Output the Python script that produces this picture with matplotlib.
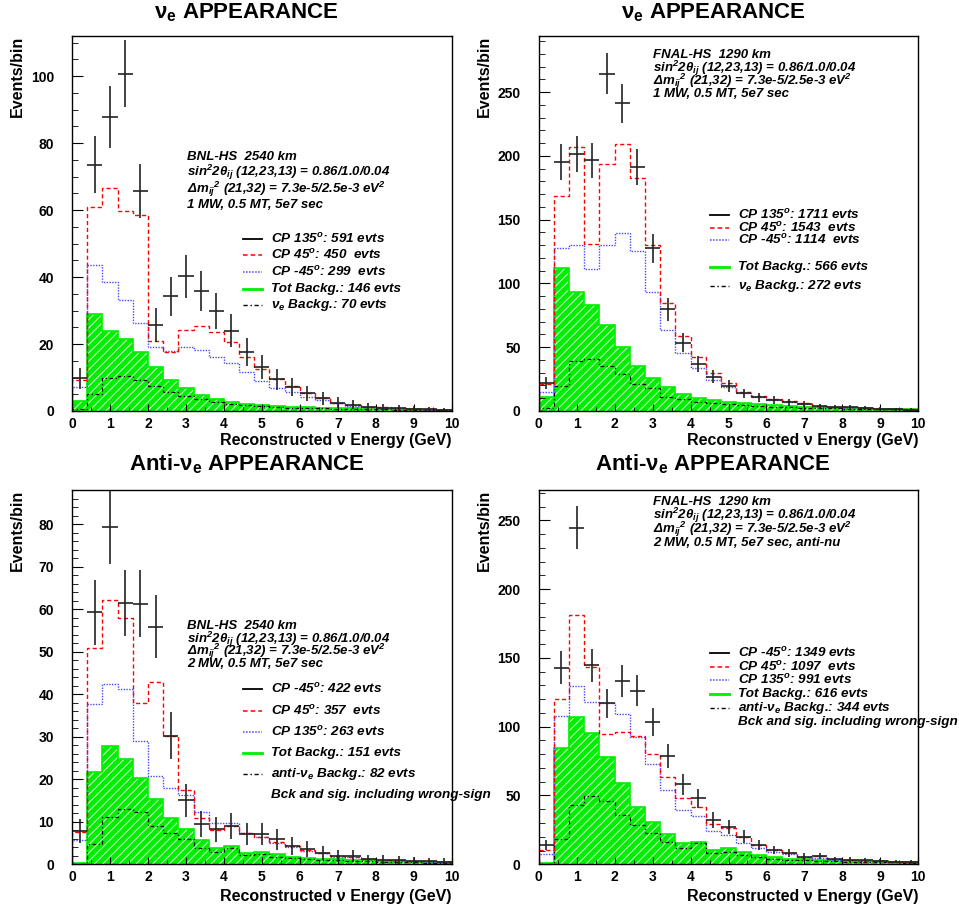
import numpy as np
import matplotlib
matplotlib.use("Agg")
import matplotlib.pyplot as plt
from matplotlib.lines import Line2D

plt.rcParams["font.family"] = ["Liberation Sans", "DejaVu Sans"]
plt.rcParams["mathtext.fontset"] = "custom"
plt.rcParams["mathtext.rm"] = "Liberation Sans:bold:italic"
plt.rcParams["mathtext.it"] = "Liberation Sans:bold:italic"
plt.rcParams["mathtext.bf"] = "Liberation Sans:bold"
plt.rcParams["hatch.linewidth"] = 0.8

# 25 bins of 0.4 GeV between 0 and 10 GeV
edges = np.linspace(0, 10, 26)
centers = 0.5 * (edges[:-1] + edges[1:])

# ---- top left: BNL-HS 2540 km, neutrino ----
tl_cp135 = [9.8, 73.6, 87.8, 100.8, 65.8, 25.7, 34.2, 40.2, 35.9, 29.9, 24.0, 17.7, 13.2,
            9.5, 7.3, 5.3, 3.8, 2.5, 1.8, 1.2, 1.0, 0.8, 0.6, 0.5, 0.4]
tl_cp45 = [9.3, 60.9, 66.7, 59.8, 58.6, 20.9, 17.6, 24.2, 25.5, 23.7, 20.6, 16.1, 12.6,
           9.6, 7.5, 5.3, 4.0, 2.5, 1.7, 1.3, 1.1, 0.8, 0.6, 0.5, 0.4]
tl_cpm45 = [7.3, 43.6, 38.4, 33.2, 26.4, 19.2, 18.0, 19.2, 18.2, 16.2, 14.2, 11.5, 9.1,
            7.0, 5.8, 4.3, 3.3, 2.3, 1.5, 1.1, 0.9, 0.7, 0.5, 0.4, 0.3]
tl_tot = [3.0, 28.9, 24.0, 21.5, 17.5, 13.0, 9.2, 6.8, 4.7, 3.6, 2.6, 2.2, 1.9,
          1.5, 1.3, 1.1, 1.0, 0.9, 0.8, 0.7, 0.6, 0.5, 0.5, 0.4, 0.4]
tl_nue = [0.5, 5.0, 10.0, 10.6, 9.3, 7.5, 5.8, 4.5, 3.5, 2.6, 2.1, 1.8, 1.5,
          1.2, 1.0, 0.9, 0.8, 0.7, 0.6, 0.5, 0.5, 0.4, 0.4, 0.3, 0.3]

# ---- top right: FNAL-HS 1290 km, neutrino ----
tr_cp135 = [22.2, 195.1, 201.6, 196.4, 264.6, 241.1, 191.2, 127.6, 79.8, 53.6, 36.9, 26.9, 19.6,
            13.9, 10.7, 8.6, 6.8, 5.5, 3.9, 3.2, 2.8, 2.2, 1.7, 1.4, 1.1]
tr_cp45 = [20.9, 168.7, 206.6, 131.3, 193.5, 209.7, 183.0, 130.2, 85.0, 58.8, 42.6, 30.1, 22.2,
           15.2, 11.8, 9.4, 7.8, 6.0, 3.9, 3.1, 2.9, 2.4, 1.8, 1.5, 1.2]
tr_cpm45 = [15.2, 128.1, 130.2, 111.7, 130.2, 139.9, 125.5, 93.6, 63.5, 45.8, 34.0, 24.3, 19.1,
            13.9, 10.7, 8.6, 6.8, 5.2, 3.4, 2.8, 2.5, 2.0, 1.5, 1.2, 1.0]
tr_tot = [11.2, 111.9, 93.1, 83.4, 67.5, 50.5, 35.3, 26.2, 18.6, 13.6, 9.9, 8.4, 7.3,
          6.0, 5.2, 4.4, 3.9, 3.5, 3.0, 2.7, 2.4, 2.1, 1.8, 1.6, 1.4]
tr_nue = [2.1, 19.6, 39.2, 40.5, 35.3, 28.8, 21.2, 17.8, 11.2, 9.7, 7.3, 6.0, 5.2,
          4.4, 3.9, 3.4, 3.0, 2.6, 2.3, 2.0, 1.8, 1.6, 1.4, 1.2, 1.0]

# ---- bottom left: BNL-HS 2540 km, anti-neutrino ----
bl_cpm45 = [7.8, 59.2, 79.4, 61.4, 61.3, 55.9, 30.2, 15.1, 9.5, 8.2, 9.0, 7.1, 7.1,
            5.9, 4.3, 3.5, 2.7, 2.0, 2.0, 1.2, 1.1, 0.9, 0.8, 0.7, 0.6]
bl_cp45 = [7.5, 50.8, 62.2, 57.9, 38.0, 42.8, 30.2, 17.5, 10.8, 8.1, 8.9, 7.3, 6.5,
           5.3, 4.2, 3.4, 2.7, 2.0, 1.8, 1.3, 1.1, 0.9, 0.8, 0.7, 0.6]
bl_cp135 = [5.6, 37.6, 42.4, 41.2, 28.9, 20.8, 17.9, 16.3, 12.2, 9.6, 9.8, 7.3, 6.5,
            5.1, 4.0, 3.2, 2.6, 1.8, 1.6, 1.2, 1.0, 0.8, 0.7, 0.6, 0.5]
bl_tot = [0.2, 21.8, 27.8, 24.8, 20.2, 15.3, 10.9, 8.2, 5.7, 3.8, 4.3, 2.6, 3.0,
          2.4, 1.8, 1.4, 1.2, 1.2, 1.0, 0.9, 0.8, 0.7, 0.6, 0.5, 0.5]
bl_nue = [0.1, 4.7, 11.2, 12.9, 12.2, 9.0, 7.3, 5.9, 3.9, 3.0, 3.8, 2.2, 2.4,
          1.8, 1.4, 1.2, 1.0, 0.9, 0.8, 0.7, 0.6, 0.5, 0.5, 0.4, 0.4]

# ---- bottom right: FNAL-HS 1290 km, anti-neutrino ----
br_cpm45 = [14.0, 142.8, 244.7, 144.7, 116.9, 133.1, 126.1, 103.6, 78.7, 58.3, 47.9, 32.2, 27.3,
            20.1, 14.0, 10.4, 8.0, 5.6, 6.1, 3.6, 3.2, 2.8, 2.4, 2.0, 1.8]
br_cp45 = [10.4, 119.8, 181.0, 143.5, 94.4, 96.3, 93.2, 80.1, 63.2, 48.4, 41.9, 29.3, 26.1,
           20.1, 14.0, 10.4, 8.0, 5.6, 6.1, 3.6, 3.1, 2.7, 2.3, 2.0, 1.8]
br_cp135 = [7.3, 107.9, 129.7, 117.6, 117.4, 109.1, 92.2, 72.6, 54.0, 39.4, 35.1, 24.2, 21.3,
            15.7, 12.1, 9.2, 7.5, 5.1, 4.8, 3.4, 2.9, 2.5, 2.1, 1.8, 1.6]
br_tot = [0.7, 84.2, 107.2, 95.6, 78.2, 58.8, 41.9, 31.0, 21.8, 15.2, 16.5, 10.4, 11.6,
          9.2, 6.8, 5.1, 4.1, 3.6, 3.4, 2.9, 2.6, 2.3, 2.1, 1.9, 1.7]
br_nue = [0.5, 18.2, 43.1, 49.6, 46.0, 35.8, 28.6, 22.5, 16.5, 11.6, 15.2, 8.5, 9.2,
          6.8, 5.1, 4.1, 3.4, 2.9, 2.7, 2.3, 2.0, 1.8, 1.6, 1.4, 1.2]

W, H = 959, 911
GREEN = "#00ee00"
RED = "#ff0000"
BLUE = "#4848ff"


def fx(x):
    return x / W


def fy(y):
    return 1 - y / H


panels = [
    dict(rect=(72, 36, 451.7, 411), data=tl_cp135, s1=tl_cp45, s2=tl_cpm45, tot=tl_tot, bkg=tl_nue,
         ymax=112, major=20, minor=5,
         title=r"ν$_\mathbf{e}$ APPEARANCE", title_xy=(246, 18),
         ylab_x=17, xlab_y=440,
         info=["BNL-HS  2540 km",
               r"sin$^2$2θ$_{ij}$ (12,23,13) = 0.86/1.0/0.04",
               r"Δm$_{ij}$$^2$ (21,32) = 7.3e-5/2.5e-3 eV$^2$",
               "1 MW, 0.5 MT, 5e7 sec"],
         info_x=187, info_y=[157, 172, 189, 205],
         leg=[r"CP 135$^o$: 591 evts", r"CP 45$^o$: 450  evts", r"CP -45$^o$: 299  evts",
              "Tot Backg.: 146 evts", r"ν$_e$ Backg.: 70 evts"],
         leg_x=243, leg_y=[239, 255, 272, 289, 305]),
    dict(rect=(538.7, 36, 918.3, 411), data=tr_cp135, s1=tr_cp45, s2=tr_cpm45, tot=tr_tot, bkg=tr_nue,
         ymax=294, major=50, minor=10,
         title=r"ν$_\mathbf{e}$ APPEARANCE", title_xy=(713, 18),
         ylab_x=484, xlab_y=440,
         info=["FNAL-HS  1290 km",
               r"sin$^2$2θ$_{ij}$ (12,23,13) = 0.86/1.0/0.04",
               r"Δm$_{ij}$$^2$ (21,32) = 7.3e-5/2.5e-3 eV$^2$",
               "1 MW, 0.5 MT, 5e7 sec"],
         info_x=653, info_y=[55, 68, 81, 94],
         leg=[r"CP 135$^o$: 1711 evts", r"CP 45$^o$: 1543  evts", r"CP -45$^o$: 1114  evts",
              "Tot Backg.: 566 evts", r"ν$_e$ Backg.: 272 evts"],
         leg_x=710, leg_y=[215, 228, 240, 267, 286]),
    dict(rect=(72, 490, 451.7, 864.3), data=bl_cpm45, s1=bl_cp45, s2=bl_cp135, tot=bl_tot, bkg=bl_nue,
         ymax=88, major=10, minor=2,
         title=r"Anti-ν$_\mathbf{e}$ APPEARANCE", title_xy=(247, 470),
         ylab_x=17, xlab_y=896,
         info=["BNL-HS  2540 km",
               r"sin$^2$2θ$_{ij}$ (12,23,13) = 0.86/1.0/0.04",
               r"Δm$_{ij}$$^2$ (21,32) = 7.3e-5/2.5e-3 eV$^2$",
               "2 MW, 0.5 MT, 5e7 sec"],
         info_x=187, info_y=[626, 639, 651, 664],
         leg=[r"CP -45$^o$: 422 evts", r"CP 45$^o$: 357  evts", r"CP 135$^o$: 263 evts",
              "Tot Backg.: 151 evts", r"anti-ν$_e$ Backg.: 82 evts",
              "Bck and sig. including wrong-sign"],
         leg_x=243, leg_y=[689, 711, 732, 753, 774, 795]),
    dict(rect=(538.7, 490, 918.3, 864.3), data=br_cpm45, s1=br_cp45, s2=br_cp135, tot=br_tot, bkg=br_nue,
         ymax=272, major=50, minor=10,
         title=r"Anti-ν$_\mathbf{e}$ APPEARANCE", title_xy=(713, 470),
         ylab_x=484, xlab_y=896,
         info=["FNAL-HS  1290 km",
               r"sin$^2$2θ$_{ij}$ (12,23,13) = 0.86/1.0/0.04",
               r"Δm$_{ij}$$^2$ (21,32) = 7.3e-5/2.5e-3 eV$^2$",
               "2 MW, 0.5 MT, 5e7 sec, anti-nu"],
         info_x=653, info_y=[502, 515, 529, 543],
         leg=[r"CP -45$^o$: 1349 evts", r"CP 45$^o$: 1097  evts", r"CP 135$^o$: 991 evts",
              "Tot Backg.: 616 evts", r"anti-ν$_e$ Backg.: 344 evts",
              "Bck and sig. including wrong-sign"],
         leg_x=710, leg_y=[653, 667, 680, 694, 708, 722]),
]

# legend key styles, same order as the legend rows
KEYS = [dict(color="black", ls="-", lw=1.3),
        dict(color=RED, ls=(0, (3, 2)), lw=1.1),
        dict(color=BLUE, ls=(0, (1, 1)), lw=1.1),
        dict(color=GREEN, ls="-", lw=2.0),
        dict(color="black", ls=(0, (3, 2, 1, 2)), lw=1.0)]

fig = plt.figure(figsize=(W / 100, H / 100), dpi=100)

for p in panels:
    x0, y0, x1, y1 = p["rect"]
    ax = fig.add_axes([fx(x0), fy(y1), (x1 - x0) / W, (y1 - y0) / H])

    # background: green fill + light hatch + green outline
    ax.stairs(p["tot"], edges, fill=True, color=GREEN, lw=0)
    ax.stairs(p["tot"], edges, fill=True, facecolor="none", edgecolor="#c8ffc8", hatch="////", lw=0)
    ax.stairs(p["tot"], edges, color=GREEN, lw=1.2)
    ax.stairs(p["bkg"], edges, color="black", ls=(0, (3, 2, 1, 2)), lw=0.9)
    ax.stairs(p["s2"], edges, color=BLUE, ls=(0, (1, 1)), lw=1.0)
    ax.stairs(p["s1"], edges, color=RED, ls=(0, (3, 2)), lw=1.0)
    vals = np.array(p["data"])
    ax.errorbar(centers, vals, xerr=0.2, yerr=np.sqrt(vals), fmt="none",
                ecolor="#222222", elinewidth=1.2, capsize=0)

    ax.set_xlim(0, 10)
    ax.set_ylim(0, p["ymax"])
    ax.xaxis.set_major_locator(plt.MultipleLocator(1))
    ax.xaxis.set_minor_locator(plt.MultipleLocator(0.5))
    ax.yaxis.set_major_locator(plt.MultipleLocator(p["major"]))
    ax.yaxis.set_minor_locator(plt.MultipleLocator(p["minor"]))
    ax.tick_params(which="both", direction="in", top=False, right=False)
    ax.tick_params(axis="y", which="major", length=8, pad=13, labelsize=10)
    ax.tick_params(axis="y", which="minor", length=4)
    ax.tick_params(axis="x", which="major", length=5, pad=4, labelsize=10)
    ax.tick_params(axis="x", which="minor", length=3)
    for lab in ax.get_xticklabels() + ax.get_yticklabels():
        lab.set_fontweight("bold")
    for sp in ax.spines.values():
        sp.set_linewidth(1.0)

    fig.text(fx(p["title_xy"][0]), fy(p["title_xy"][1]), p["title"], ha="center", va="baseline",
             fontsize=16, fontweight="bold")
    fig.text(fx(x1), fy(p["xlab_y"]), "Reconstructed ν Energy (GeV)", ha="right", va="center",
             fontsize=11.5, fontweight="bold")
    fig.text(fx(p["ylab_x"]), fy(y0), "Events/bin", ha="center", va="top", rotation=90,
             fontsize=11.5, fontweight="bold")

    for line, yy in zip(p["info"], p["info_y"]):
        fig.text(fx(p["info_x"]), fy(yy), line, ha="left", va="center",
                 fontsize=9.5, fontweight="bold", style="italic")

    lx = p["leg_x"]
    for i, (lab, yy) in enumerate(zip(p["leg"], p["leg_y"])):
        if i < len(KEYS):
            k = KEYS[i]
            fig.add_artist(Line2D([fx(lx), fx(lx + 19)], [fy(yy), fy(yy)], color=k["color"],
                                  ls=k["ls"], lw=k["lw"], transform=fig.transFigure))
        fig.text(fx(lx + 28), fy(yy), lab, ha="left", va="center",
                 fontsize=9.7, fontweight="bold", style="italic")

fig.savefig("out.png", dpi=100)
